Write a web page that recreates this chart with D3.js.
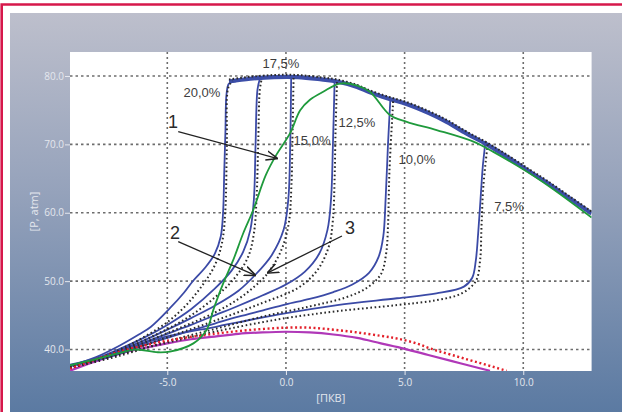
<!DOCTYPE html>
<html>
<head>
<meta charset="utf-8">
<script src="https://cdn.jsdelivr.net/npm/d3@7/dist/d3.min.js"></script>
<style>
  body { margin: 0; background: #fff; }
  svg { display: block; }
</style>
</head>
<body>
<div id="chart"></div>
<script>
// axis ticks
var xTicks = [-5, 0, 5, 10];
var yTicks = [40, 50, 60, 70, 80];

// upper envelope (after combustion), [crank angle, pressure]
var envelope = [[-2.4, 79.2], [-1.5, 79.6], [-0.5, 79.85], [0.5, 79.85], [1.5, 79.5], [2.15, 79.2],
  [3.0, 78.4], [3.54, 77.6], [4.3, 76.7], [5.08, 75.9], [6.0, 74.6], [6.77, 73.3], [7.6, 71.6],
  [8.46, 70.0], [9.4, 68.0], [10.28, 66.0], [11.0, 64.4], [12.0, 62.0], [12.88, 59.9]];

// blue (solid) curves by ignition share
var blue20 = [[-9.1, 37.6], [-8, 38.9], [-7, 40.6], [-6.2, 42.2], [-5.7, 43.3], [-4.9, 46.0], [-4.3, 48.3],
  [-3.9, 50.1], [-3.4, 52.0], [-3.0, 54.0], [-2.75, 56.5], [-2.65, 60], [-2.6, 66], [-2.55, 72],
  [-2.5, 77.5], [-2.4, 78.9], [-2.1, 79.2]];
var blue175 = [[-9.1, 37.6], [-8, 38.7], [-7, 40.1], [-6, 41.7], [-5, 43.6], [-4, 45.9], [-3, 48.9],
  [-2.3, 51.5], [-1.8, 54.3], [-1.5, 57.5], [-1.35, 62], [-1.28, 70], [-1.2, 78], [-1.1, 79.6]];
var blue15 = [[-9.1, 37.6], [-8, 38.6], [-7, 39.9], [-6, 41.3], [-5, 42.9], [-4, 44.6], [-3, 46.4],
  [-2, 48.6], [-1.3, 50.9], [-0.6, 53.8], [-0.1, 57.5], [0.1, 62], [0.18, 70], [0.22, 79.7]];
var blue125 = [[-9.1, 37.6], [-8, 38.5], [-7, 39.7], [-6, 41.0], [-5, 42.3], [-4, 43.6], [-3, 45.0],
  [-2, 46.4], [-1, 47.9], [0, 49.5], [0.8, 51.4], [1.4, 54.0], [1.75, 57.5], [1.9, 62], [1.98, 70], [2.05, 79.2]];
var blue10 = [[-9.1, 37.6], [-8, 38.4], [-7, 39.4], [-6, 40.6], [-5, 41.7], [-4, 42.8], [-3, 43.8],
  [-2, 44.8], [-1, 45.7], [0, 46.6], [1, 47.4], [2, 48.4], [2.8, 49.5], [3.5, 51.2], [3.9, 53.5],
  [4.1, 56.5], [4.2, 62], [4.3, 70], [4.4, 76.6]];
var blue75 = [[-9.1, 37.8], [-7, 39.6], [-5.36, 41.6], [-2.86, 43.4], [-0.35, 45.1], [2.16, 46.5],
  [4.68, 47.5], [6.34, 48.2], [7.5, 49.2], [7.85, 50.5], [8.0, 53.0], [8.1, 57], [8.2, 62], [8.3, 67], [8.4, 70.2]];

// black dotted companions
var dot20 = [[-9.1, 37.3], [-8, 38.5], [-7, 40.0], [-6, 41.8], [-5, 44.0], [-4.2, 46.5], [-3.5, 49.5],
  [-3.0, 52.3], [-2.7, 55.5], [-2.56, 60], [-2.49, 70], [-2.43, 78.3], [-2.25, 79.3]];
var dot175 = [[-9.1, 37.3], [-7, 39.8], [-5, 43.0], [-4, 45.0], [-3, 47.6], [-2.2, 50.3], [-1.6, 53.5],
  [-1.35, 57], [-1.24, 62], [-1.17, 70], [-1.1, 78], [-1.02, 79.6]];
var dot15 = [[-9.1, 37.3], [-7, 39.6], [-5, 42.4], [-3, 45.4], [-2, 47.4], [-1.3, 49.3], [-0.76, 51.2],
  [-0.2, 54.5], [0.12, 58.5], [0.23, 64], [0.28, 72], [0.32, 79.8]];
var dot125 = [[-9.1, 37.3], [-7, 39.4], [-5, 41.8], [-3, 44.2], [-1, 46.8], [0.5, 49.0], [1.3, 51.5],
  [1.8, 55], [1.98, 59], [2.05, 65], [2.09, 72], [2.15, 79.1]];
var dot10 = [[-9.1, 37.3], [-7, 39.1], [-5, 41.2], [-3, 43.0], [-1, 44.8], [1, 46.3], [2.5, 47.6],
  [3.4, 49.0], [4.0, 51.0], [4.22, 54], [4.3, 58], [4.36, 66], [4.52, 76.4]];
var dot75 = [[-9.1, 37.4], [-7, 39.3], [-5, 41.0], [-3, 42.6], [-0.35, 44.4], [2.15, 45.6], [4.68, 46.5],
  [6.3, 47.2], [7.4, 48.2], [8.0, 50.0], [8.18, 53], [8.24, 58], [8.32, 64], [8.5, 70.0]];

// curve 1 (green)
var green = [[-9.1, 37.7], [-8, 38.6], [-7, 39.5], [-6.4, 40.0], [-5.4, 39.6], [-4.89, 39.7], [-3.9, 40.9],
  [-3.34, 42.9], [-3.06, 45.8], [-2.64, 49.7], [-2.22, 53.1], [-1.8, 57.0], [-1.38, 60.4], [-0.85, 65.5],
  [-0.4, 68.5], [0.17, 71.6], [0.6, 75.0], [1.0, 76.5], [1.57, 77.7], [2.28, 78.9], [3.0, 78.6],
  [3.54, 77.7], [4.38, 74.3], [5.09, 73.3], [6.35, 72.1], [7.9, 70.4], [8.74, 68.9], [10.7, 64.8], [12.88, 59.3]];

// compression (motoring) curves
var magenta = [[-9.1, 36.9], [-8, 38.3], [-7, 39.4], [-6, 40.2], [-5, 40.9], [-4, 41.5], [-3, 41.9],
  [-2, 42.3], [-1, 42.5], [0, 42.6], [1, 42.5], [2, 42.2], [3, 41.7], [4, 40.9], [5, 40.1], [6, 39.2],
  [7, 38.3], [8, 37.4], [8.6, 36.9]];
var redDot = [[-9.1, 37.2], [-7, 39.7], [-5, 41.3], [-3, 42.3], [-2, 42.7], [-1, 43.0], [0, 43.2],
  [1, 43.2], [2, 42.9], [3, 42.5], [4, 42.0], [4.7, 41.6], [5.5, 40.9], [6.2, 40.0], [7, 39.2],
  [8, 38.2], [9.3, 36.9]];

// text annotations [x, y, text]
var pctLabels = [[-0.21, 81.9, "17,5%"], [-3.54, 77.66, "20,0%"], [2.99, 73.27, "12,5%"],
  [1.10, 70.64, "15,0%"], [5.52, 67.72, "10,0%"], [9.40, 60.85, "7,5%"]];
var numLabels = [[-4.76, 73.27, "1"], [-4.68, 57.05, "2"], [2.70, 57.78, "3"]];
// arrows [x1, y1, x2, y2] (tail -> head)
var arrows = [[-4.54, 71.86, -0.39, 67.97], [-4.54, 55.77, -1.31, 50.88], [2.36, 56.6, -0.75, 51.24]];

var W = 622, H = 412;
var svg = d3.select("#chart").append("svg").attr("width", W).attr("height", H);
var defs = svg.append("defs");

var grad = defs.append("linearGradient").attr("id", "bg")
  .attr("x1", 0).attr("y1", 0).attr("x2", 0).attr("y2", 1);
grad.append("stop").attr("offset", "0%").attr("stop-color", "#bdbfcc");
grad.append("stop").attr("offset", "45%").attr("stop-color", "#95a2bb");
grad.append("stop").attr("offset", "100%").attr("stop-color", "#5b7aa2");

var mk = defs.append("marker").attr("id", "arrowhead")
  .attr("viewBox", "0 0 10 10").attr("refX", 9).attr("refY", 5)
  .attr("markerWidth", 9).attr("markerHeight", 9).attr("orient", "auto");
mk.append("path").attr("d", "M0,1 L10,5 L0,9").attr("fill", "none").attr("stroke", "#222").attr("stroke-width", 1.3);

// frame
svg.append("rect").attr("x", 10).attr("y", 13).attr("width", W - 10).attr("height", H - 13).attr("fill", "url(#bg)");
svg.append("path").attr("d", "M1.7," + H + " V4.5 H" + W)
  .attr("fill", "none").attr("stroke", "#d6184b").attr("stroke-width", 2.6);

var x = d3.scaleLinear().domain([-9.1, 12.88]).range([70, 591.6]);
var y = d3.scaleLinear().domain([36.86, 83.51]).range([371, 52]);

svg.append("rect").attr("x", x(-9.1)).attr("y", y(83.51))
  .attr("width", x(12.88) - x(-9.1)).attr("height", y(36.86) - y(83.51)).attr("fill", "#fff");

defs.append("clipPath").attr("id", "clip").append("rect")
  .attr("x", x(-9.1)).attr("y", y(83.51))
  .attr("width", x(12.88) - x(-9.1)).attr("height", y(36.86) - y(83.51));

var fmt = function (d) { return d.toFixed(1); };

// axes
var gx = svg.append("g").attr("transform", "translate(0," + y(36.86) + ")")
  .call(d3.axisBottom(x).tickValues(xTicks).tickFormat(fmt).tickSize(4).tickPadding(4));
var gy = svg.append("g").attr("transform", "translate(" + x(-9.1) + ",0)")
  .call(d3.axisLeft(y).tickValues(yTicks).tickFormat(fmt).tickSize(5).tickPadding(1));
[gx, gy].forEach(function (g) {
  g.select(".domain").remove();
  g.selectAll("line").attr("stroke", "#e6e8ef");
  g.selectAll("text").attr("fill", "#e4e7ee").style("font-family", "'Open Sans', sans-serif").style("font-size", "10px");
});

// grid
var grid = svg.append("g").attr("clip-path", "url(#clip)");
grid.selectAll(".vg").data(xTicks).enter().append("line")
  .attr("x1", function (d) { return x(d); }).attr("x2", function (d) { return x(d); })
  .attr("y1", y(83.51)).attr("y2", y(36.86))
  .attr("stroke", "#6d6d6d").attr("stroke-width", 1.6).attr("stroke-dasharray", "2,3");
grid.selectAll(".hg").data(yTicks).enter().append("line")
  .attr("y1", function (d) { return y(d); }).attr("y2", function (d) { return y(d); })
  .attr("x1", x(-9.1)).attr("x2", x(12.88))
  .attr("stroke", "#6d6d6d").attr("stroke-width", 1.6).attr("stroke-dasharray", "2.5,3");

var line = d3.line().x(function (d) { return x(d[0]); }).y(function (d) { return y(d[1]); })
  .curve(d3.curveCatmullRom.alpha(0.5));

var plot = svg.append("g").attr("clip-path", "url(#clip)");

plot.append("path").attr("d", line(magenta)).attr("fill", "none")
  .attr("stroke", "#b038b8").attr("stroke-width", 2.2);

var blues = [blue20, blue175, blue15, blue125, blue10, blue75];
plot.selectAll(".blue").data(blues).enter().append("path")
  .attr("d", line).attr("fill", "none").attr("stroke", "#3b4aa6").attr("stroke-width", 1.8);
plot.append("path").attr("d", line(envelope)).attr("fill", "none")
  .attr("stroke", "#3c4ea8").attr("stroke-width", 4.2);

var dots = [dot20, dot175, dot15, dot125, dot10, dot75];
plot.selectAll(".dot").data(dots).enter().append("path")
  .attr("d", line).attr("fill", "none").attr("stroke", "#2a2a2a").attr("stroke-width", 2)
  .attr("stroke-dasharray", "1.6,2.6");
plot.append("path").attr("d", line(envelope)).attr("fill", "none")
  .attr("transform", "translate(0,-2)")
  .attr("stroke", "#2a2a2a").attr("stroke-width", 2).attr("stroke-dasharray", "1.6,2.2");

plot.append("path").attr("d", line(redDot)).attr("fill", "none")
  .attr("stroke", "#e3202a").attr("stroke-width", 2.4).attr("stroke-dasharray", "2,2.6");

plot.append("path").attr("d", line(green)).attr("fill", "none")
  .attr("stroke", "#1f9a3c").attr("stroke-width", 1.8);

// annotations
svg.selectAll(".pct").data(pctLabels).enter().append("text")
  .attr("x", function (d) { return x(d[0]); }).attr("y", function (d) { return y(d[1]); })
  .attr("text-anchor", "middle").attr("dominant-baseline", "central")
  .style("font-family", "'Liberation Sans', Arial, sans-serif").style("font-size", "13px")
  .attr("fill", "#3d3d3d").text(function (d) { return d[2]; });
svg.selectAll(".num").data(numLabels).enter().append("text")
  .attr("x", function (d) { return x(d[0]); }).attr("y", function (d) { return y(d[1]); })
  .attr("text-anchor", "middle").attr("dominant-baseline", "central")
  .style("font-family", "'Liberation Sans', Arial, sans-serif").style("font-size", "18px")
  .attr("fill", "#2a2a2a").text(function (d) { return d[2]; });
svg.selectAll(".arr").data(arrows).enter().append("line")
  .attr("x1", function (d) { return x(d[0]); }).attr("y1", function (d) { return y(d[1]); })
  .attr("x2", function (d) { return x(d[2]); }).attr("y2", function (d) { return y(d[3]); })
  .attr("stroke", "#222").attr("stroke-width", 1.3).attr("marker-end", "url(#arrowhead)");

// axis titles
svg.append("text").attr("transform", "translate(33," + (y(36.86) + y(83.51)) / 2 + ") rotate(-90)")
  .attr("text-anchor", "middle").attr("dominant-baseline", "central")
  .style("font-family", "'Open Sans', sans-serif").style("font-size", "11px")
  .attr("fill", "#e4e7ee").text("[P, atm]");
svg.append("text").attr("x", (x(-9.1) + x(12.88)) / 2).attr("y", 397)
  .attr("text-anchor", "middle").attr("dominant-baseline", "central")
  .style("font-family", "'Open Sans', sans-serif").style("font-size", "11px")
  .attr("fill", "#e4e7ee").text("[ПКВ]");
</script>
</body>
</html>
